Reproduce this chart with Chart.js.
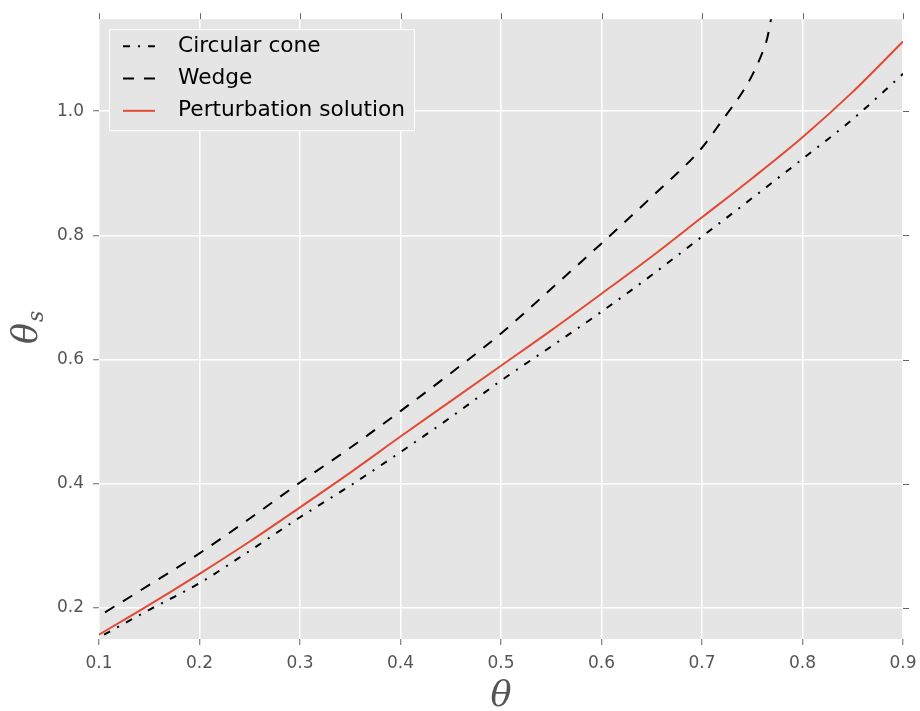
<!DOCTYPE html>
<html>
<head>
<meta charset="utf-8">
<script src="https://cdn.jsdelivr.net/npm/chart.js@4.4.0/dist/chart.umd.min.js"></script>
<style>
  html, body { margin: 0; padding: 0; background: #fff; }
  canvas { display: block; }
</style>
</head>
<body>
<canvas id="shockChart" width="920" height="711"></canvas>
<script>
// Values
const xTicks = [0.1, 0.2, 0.3, 0.4, 0.5, 0.6, 0.7, 0.8, 0.9];
const yTicks = [0.2, 0.4, 0.6, 0.8, 1.0];

const coneX = [0.105, 0.15, 0.20, 0.25, 0.30, 0.35, 0.40, 0.45, 0.50, 0.55, 0.60, 0.65, 0.70, 0.75, 0.80, 0.85, 0.90];
const coneY = [0.157, 0.197, 0.240, 0.292, 0.346, 0.397, 0.451, 0.507, 0.566, 0.621, 0.677, 0.736, 0.798, 0.860, 0.923, 0.987, 1.060];

const wedgeX = [0.106, 0.15, 0.20, 0.25, 0.30, 0.35, 0.40, 0.45, 0.50, 0.55, 0.60, 0.65, 0.70, 0.72, 0.74, 0.75, 0.76, 0.765, 0.77];
const wedgeY = [0.193, 0.237, 0.288, 0.344, 0.402, 0.458, 0.517, 0.578, 0.642, 0.714, 0.787, 0.862, 0.941, 0.985, 1.030, 1.058, 1.094, 1.118, 1.160];

const perturbX = [0.10, 0.15, 0.20, 0.25, 0.30, 0.35, 0.40, 0.45, 0.50, 0.55, 0.60, 0.65, 0.70, 0.75, 0.80, 0.85, 0.90];
const perturbY = [0.157, 0.205, 0.255, 0.307, 0.362, 0.418, 0.476, 0.533, 0.590, 0.647, 0.706, 0.766, 0.829, 0.892, 0.958, 1.031, 1.112];

const labels = ["Circular cone", "Wedge", "Perturbation solution"];

function pts(xs, ys) {
    return xs.map((x, i) => ({ x: x, y: ys[i] }));
}

// grey panel behind the plot
const panelBg = {
    id: "panelBg",
    beforeDraw(chart) {
        const a = chart.chartArea, ctx = chart.ctx;
        ctx.save();
        ctx.fillStyle = "#E5E5E5";
        ctx.fillRect(a.left, a.top, a.right - a.left, a.bottom - a.top);
        ctx.restore();
    }
};

// tick marks on the top and right edges, axis titles, legend box
const extras = {
    id: "extras",
    afterDatasetsDraw(chart) {
        const ctx = chart.ctx, a = chart.chartArea;
        const xs = chart.scales.x, ys = chart.scales.y;
        ctx.save();
        ctx.strokeStyle = "#666";
        ctx.lineWidth = 1;
        xTicks.forEach(v => {
            const px = Math.round(xs.getPixelForValue(v)) + 0.5;
            ctx.beginPath();
            ctx.moveTo(px, a.top);
            ctx.lineTo(px, a.top - 6);
            ctx.stroke();
        });
        yTicks.forEach(v => {
            const py = Math.round(ys.getPixelForValue(v)) + 0.5;
            ctx.beginPath();
            ctx.moveTo(a.right, py);
            ctx.lineTo(a.right + 6, py);
            ctx.stroke();
        });

        // axis titles
        ctx.fillStyle = "#555";
        ctx.font = "italic 35px 'DejaVu Serif'";
        ctx.textAlign = "center";
        ctx.textBaseline = "alphabetic";
        ctx.fillText("θ", (a.left + a.right) / 2, 706);

        ctx.save();
        ctx.translate(37, 344);
        ctx.rotate(-Math.PI / 2);
        ctx.textAlign = "left";
        ctx.font = "italic 35px 'DejaVu Serif'";
        ctx.fillText("θ", 0, 0);
        const w = ctx.measureText("θ").width;
        ctx.font = "italic 22px 'DejaVu Serif'";
        ctx.fillText("s", w + 1, 6);
        ctx.restore();

        // legend
        const lx = a.left + 10, ly = a.top + 10, lw = 305, lh = 101;
        ctx.fillStyle = "#E5E5E5";
        ctx.fillRect(lx, ly, lw, lh);
        ctx.strokeStyle = "#FFFFFF";
        ctx.lineWidth = 1;
        ctx.strokeRect(lx + 0.5, ly + 0.5, lw, lh);
        chart.data.datasets.forEach((ds, i) => {
            const y = ly + 17 + i * 32.3;
            ctx.strokeStyle = ds.borderColor;
            ctx.lineWidth = ds.borderWidth;
            ctx.setLineDash(ds.borderDash || []);
            ctx.beginPath();
            ctx.moveTo(lx + 14, y);
            ctx.lineTo(lx + 46, y);
            ctx.stroke();
            ctx.setLineDash([]);
            ctx.fillStyle = "#000";
            ctx.font = "21.7px 'DejaVu Sans'";
            ctx.textAlign = "left";
            ctx.textBaseline = "middle";
            ctx.fillText(ds.label, lx + 69, y);
        });
        ctx.restore();
    }
};

const ctx = document.getElementById("shockChart").getContext("2d");

new Chart(ctx, {
    type: "scatter",
    data: {
        datasets: [
            {
                label: labels[0],
                data: pts(coneX, coneY),
                borderColor: "#000000",
                borderWidth: 2,
                borderDash: [7, 8, 2, 8],
            },
            {
                label: labels[1],
                data: pts(wedgeX, wedgeY),
                borderColor: "#000000",
                borderWidth: 2,
                borderDash: [11, 10],
            },
            {
                label: labels[2],
                data: pts(perturbX, perturbY),
                borderColor: "#E24A33",
                borderWidth: 2,
            }
        ].map(d => Object.assign(d, {
            showLine: true,
            pointRadius: 0,
            fill: false,
            cubicInterpolationMode: "monotone",
            clip: 0
        }))
    },
    options: {
        responsive: false,
        devicePixelRatio: 1,
        animation: false,
        layout: { padding: { top: 18, right: 0, left: 0, bottom: 0 } },
        plugins: {
            legend: { display: false },
            tooltip: { enabled: false }
        },
        scales: {
            x: {
                type: "linear",
                min: 0.1,
                max: 0.9,
                afterBuildTicks: s => { s.ticks = xTicks.map(v => ({ value: v })); },
                afterFit: s => { s.height = 72; s.paddingRight = 17; },
                grid: { color: "#FFFFFF", lineWidth: 1.5, tickColor: "#666", tickLength: 6, tickWidth: 1 },
                border: { display: false },
                ticks: {
                    color: "#555",
                    font: { family: "DejaVu Sans", size: 17 },
                    padding: 8,
                    maxRotation: 0,
                    callback: v => v.toFixed(1)
                }
            },
            y: {
                type: "linear",
                min: 0.15,
                max: 1.148,
                afterBuildTicks: s => { s.ticks = yTicks.map(v => ({ value: v })); },
                afterFit: s => { s.width = 99; },
                grid: { color: "#FFFFFF", lineWidth: 1.5, tickColor: "#666", tickLength: 6, tickWidth: 1 },
                border: { display: false },
                ticks: {
                    color: "#555",
                    font: { family: "DejaVu Sans", size: 17 },
                    padding: 9,
                    callback: v => v.toFixed(1)
                }
            }
        }
    },
    plugins: [panelBg, extras]
});
</script>
</body>
</html>
